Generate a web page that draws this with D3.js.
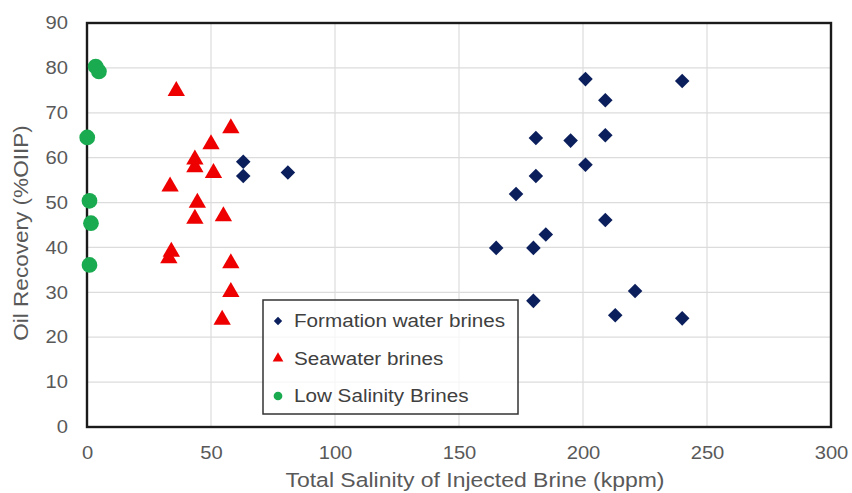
<!DOCTYPE html>
<html>
<head>
<meta charset="utf-8">
<script src="https://cdn.jsdelivr.net/npm/d3@7"></script>
<style>
  body { margin: 0; background: #fff; }
  svg text { font-family: "Liberation Sans", Arial, sans-serif; }
</style>
</head>
<body>
<svg id="chart" width="852" height="493"></svg>
<script>
// Oil recovery versus total salinity of the injected brine
const formationX = [201, 240, 209, 181, 195, 209, 201, 181, 173, 209, 185, 165, 180, 221, 180, 213, 240, 63, 63, 81];
const formationY = [77.5, 77.1, 72.8, 64.4, 63.8, 65.0, 58.4, 55.9, 51.9, 46.1, 42.9, 39.9, 39.9, 30.3, 28.1, 24.9, 24.2, 59.1, 55.9, 56.7];

const seawaterX = [36, 58, 50, 43.5, 43.5, 51, 33.5, 44.5, 43.5, 55, 34, 33, 58, 58, 54.5];
const seawaterY = [75.2, 66.9, 63.3, 59.9, 58.2, 56.9, 53.9, 50.3, 46.7, 47.3, 39.4, 37.9, 36.8, 30.4, 24.2];

const lowSalX = [3.5, 4.8, 0.1, 1.0, 1.6, 1.0];
const lowSalY = [80.3, 79.2, 64.5, 50.4, 45.4, 36.1];

const xTicks = [0, 50, 100, 150, 200, 250, 300];
const yTicks = [0, 10, 20, 30, 40, 50, 60, 70, 80, 90];

const seriesNames = ["Formation water brines", "Seawater brines", "Low Salinity Brines"];
const seriesColors = ["#0b1f5c", "#ee0000", "#1aab50"];

const svg = d3.select("#chart");
const plotL = 87, plotR = 831, plotT = 23, plotB = 427;

const x = d3.scaleLinear().domain([0, 300]).range([plotL, plotR]);
const y = d3.scaleLinear().domain([0, 90]).range([plotB, plotT]);

// widen glyphs a little so the text keeps its slightly broad proportions
function widen(sel, factor) {
  sel.each(function () {
    const len = this.getComputedTextLength();
    d3.select(this).attr("textLength", len * factor).attr("lengthAdjust", "spacingAndGlyphs");
  });
}

// grid
const grid = svg.append("g");
grid.selectAll(".gx").data(xTicks.slice(1, -1)).join("line")
  .attr("x1", d => x(d)).attr("x2", d => x(d))
  .attr("y1", plotT).attr("y2", plotB)
  .attr("stroke", "#dcdcdc").attr("stroke-width", 1.2);
grid.selectAll(".gy").data(yTicks.slice(1, -1)).join("line")
  .attr("x1", plotL).attr("x2", plotR)
  .attr("y1", d => y(d)).attr("y2", d => y(d))
  .attr("stroke", "#dcdcdc").attr("stroke-width", 1.2);

// axes (labels only, frame drawn separately)
const xAxis = svg.append("g").attr("transform", `translate(0,${plotB})`)
  .call(d3.axisBottom(x).tickValues(xTicks).tickSize(0).tickPadding(19));
const yAxis = svg.append("g").attr("transform", `translate(${plotL},0)`)
  .call(d3.axisLeft(y).tickValues(yTicks).tickSize(0).tickPadding(19));
[xAxis, yAxis].forEach(a => {
  a.select(".domain").remove();
  a.selectAll("text").attr("font-size", 18).attr("fill", "#595959")
    .attr("font-family", "'Liberation Sans', Arial, sans-serif");
  widen(a.selectAll("text"), 1.12);
});

// plot frame
svg.append("rect").attr("x", plotL).attr("y", plotT)
  .attr("width", plotR - plotL).attr("height", plotB - plotT)
  .attr("fill", "none").attr("stroke", "#1a1a1a").attr("stroke-width", 2.4);

// axis titles
const xTitle = svg.append("text").attr("x", 475).attr("y", 487)
  .attr("text-anchor", "middle").attr("font-size", 20.5).attr("fill", "#595959")
  .text("Total Salinity of Injected Brine (kppm)");
widen(xTitle, 1.12);
const yTitle = svg.append("text").attr("transform", "translate(28,233) rotate(-90)")
  .attr("text-anchor", "middle").attr("font-size", 20.5).attr("fill", "#595959")
  .text("Oil Recovery (%OIIP)");
widen(yTitle, 1.1);

// markers
const diamond = d3.symbol().type(d3.symbolDiamond2).size(135);
const triangle = d3.symbol().type(d3.symbolTriangle).size(130);
const circle = d3.symbol().type(d3.symbolCircle).size(195);

const formation = formationX.map((v, i) => [v, formationY[i]]);
const seawater = seawaterX.map((v, i) => [v, seawaterY[i]]);
const lowSal = lowSalX.map((v, i) => [v, lowSalY[i]]);

// legend box (drawn under the markers)
const lg = svg.append("g");
lg.append("rect").attr("x", 263).attr("y", 300).attr("width", 255).attr("height", 114)
  .attr("fill", "#fff").attr("fill-opacity", 0.75)
  .attr("stroke", "#333").attr("stroke-width", 1.5);
const legendShapes = [
  d3.symbol().type(d3.symbolDiamond2).size(45),
  d3.symbol().type(d3.symbolTriangle).size(50),
  d3.symbol().type(d3.symbolCircle).size(60)
];
const rowBase = [327, 364.5, 402];
seriesNames.forEach((name, i) => {
  const yy = rowBase[i];
  lg.append("path").attr("d", legendShapes[i]())
    .attr("transform", `translate(278,${yy - 6})`)
    .attr("fill", seriesColors[i]);
  const t = lg.append("text").attr("x", 294).attr("y", yy)
    .attr("font-size", 17.5).attr("fill", "#404040").text(name);
  widen(t, 1.18);
});

svg.append("g").selectAll("path").data(formation).join("path")
  .attr("d", diamond()).attr("transform", d => `translate(${x(d[0])},${y(d[1])})`)
  .attr("fill", seriesColors[0]);
svg.append("g").selectAll("path").data(seawater).join("path")
  .attr("d", triangle()).attr("transform", d => `translate(${x(d[0])},${y(d[1]) + 1.5})`)
  .attr("fill", seriesColors[1]);
svg.append("g").selectAll("path").data(lowSal).join("path")
  .attr("d", circle()).attr("transform", d => `translate(${x(d[0])},${y(d[1])})`)
  .attr("fill", seriesColors[2]);
</script>
</body>
</html>
